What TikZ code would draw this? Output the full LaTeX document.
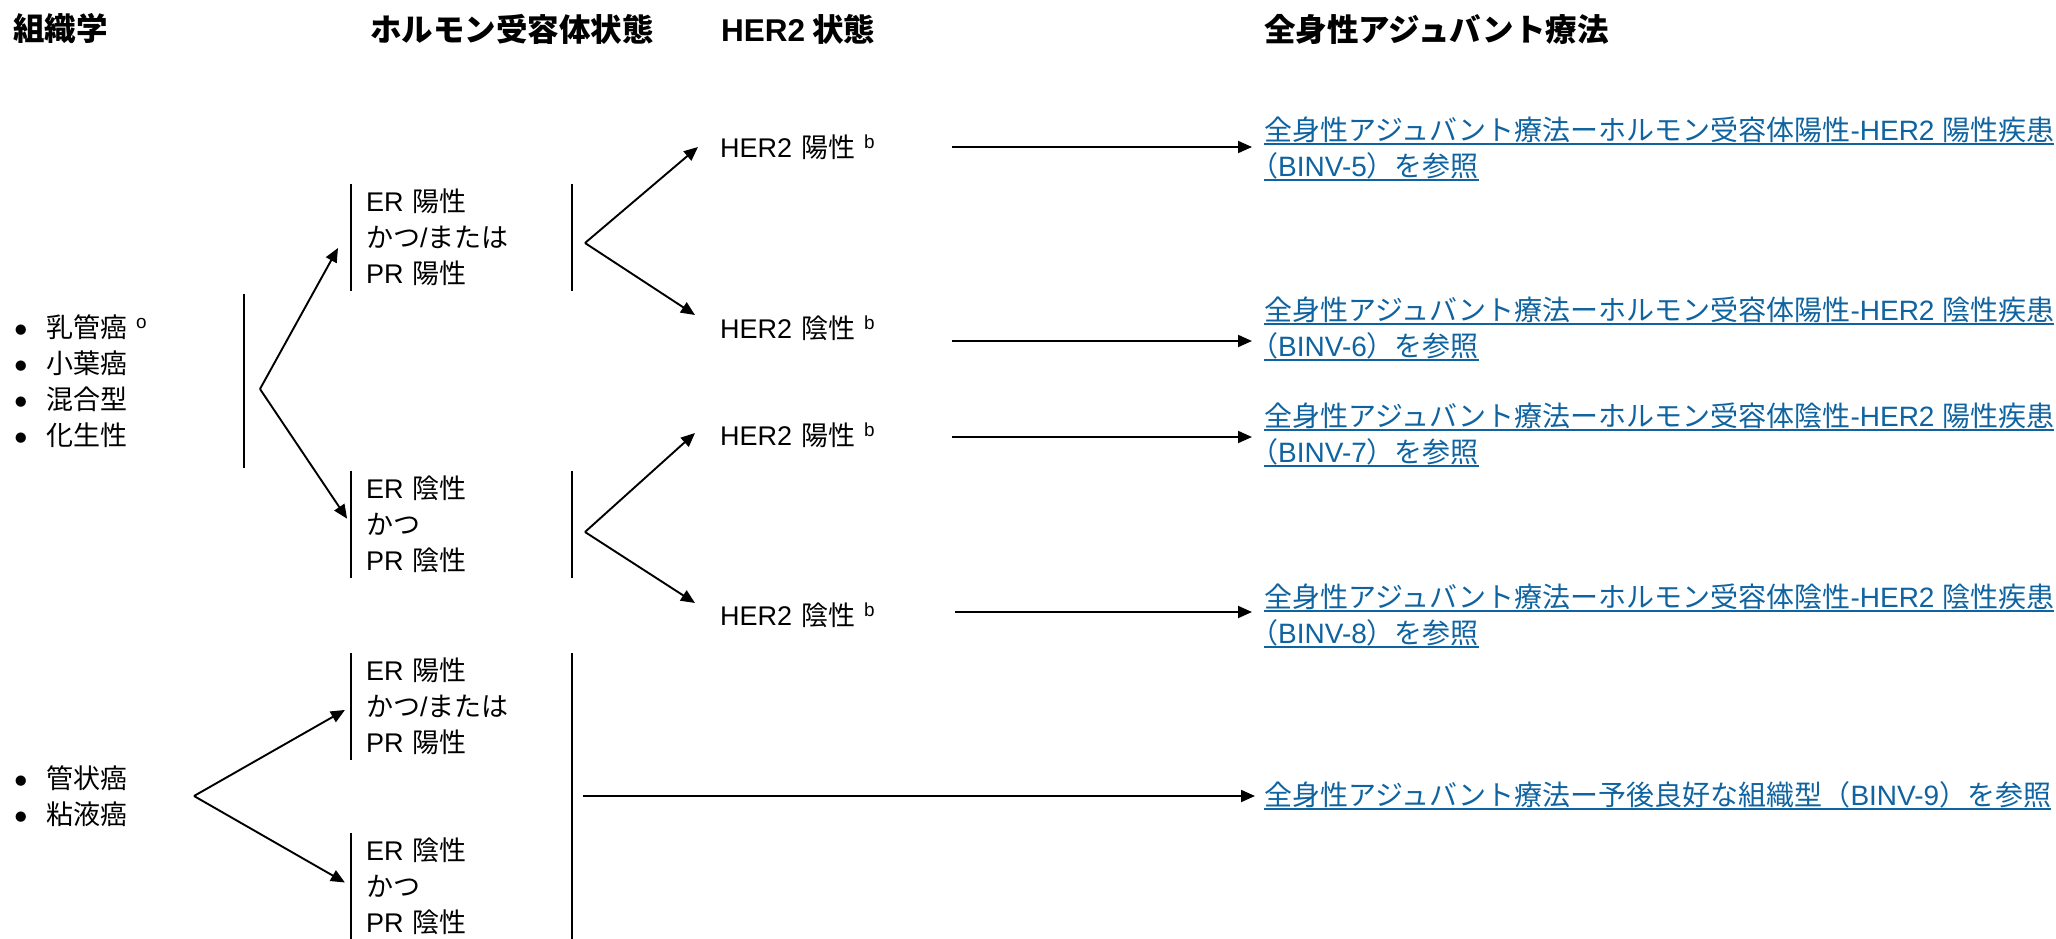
\documentclass[tikz,border=0pt]{standalone}
\usepackage{fontspec}
\setmainfont{Noto Sans CJK JP}
\newfontfamily\lat{Liberation Sans}
\usetikzlibrary{arrows.meta,calc}
\definecolor{linkblue}{RGB}{14,99,160}
\newcommand\bitem{\makebox[31pt][l]{\raisebox{3pt}{\fontsize{11.5}{11.5}\selectfont ●}}}
\newcommand\ulk[1]{\setbox0=\hbox{#1}\leavevmode\rlap{\rule[-5pt]{\wd0}{2pt}}\box0}
\newcommand\opar{{\addfontfeature{RawFeature=+halt}（}}
\begin{document}
\begin{tikzpicture}[x=1pt,y=-1pt,
  every node/.style={font=\fontsize{27}{36}\selectfont, inner sep=0pt},
  head/.style={anchor=west, font=\fontsize{31.5}{36}\selectfont\bfseries},
  hrbox/.style={anchor=west, text width=191pt, inner xsep=15pt, align=left, minimum height=107pt},
  her/.style={anchor=west, text width=232pt, align=left},
  lnk/.style={anchor=west, align=left, text=linkblue, font=\fontsize{28}{36}\selectfont},
  arr/.style={line width=1.9pt, -{Triangle[length=14pt,width=12pt]}},
  bar/.style={line width=1.9pt}]
\useasboundingbox (0,0) rectangle (2056,939);

% headers
\node[head] (h0) at (13,29) {組織学};
\node[head] (h1) at (370,29) {ホルモン受容体状態};
\node[head] (h2) at (721,29) {{\lat HER2} 状態};
\node[head] (h3) at (1264,29) {全身性アジュバント療法};

% histology lists
\node[anchor=west, text width=229pt, align=left, minimum height=174pt] (l1) at (15,381)
  {\bitem 乳管癌 \textsuperscript{\lat o}\\ \bitem 小葉癌\\ \bitem 混合型\\ \bitem 化生性};
\node[anchor=west, align=left] (l2) at (15,796) {\bitem 管状癌\\ \bitem 粘液癌};

% hormone receptor boxes
\node[hrbox] (b1) at (351,237.5) {{\lat ER} 陽性\\かつ{\lat /}または\\{\lat PR} 陽性};
\node[hrbox] (b2) at (351,524.5) {{\lat ER} 陰性\\かつ\\{\lat PR} 陰性};
\node[hrbox] (b3) at (351,706.5) {{\lat ER} 陽性\\かつ{\lat /}または\\{\lat PR} 陽性};
\node[hrbox, minimum height=106pt] (b4) at (351,886) {{\lat ER} 陰性\\かつ\\{\lat PR} 陰性};

% HER2 status
\node[her] (p1) at (720,147) {{\lat HER2} 陽性 \textsuperscript{\lat b}};
\node[her] (n1) at (720,328) {{\lat HER2} 陰性 \textsuperscript{\lat b}};
\node[her] (p2) at (720,435) {{\lat HER2} 陽性 \textsuperscript{\lat b}};
\node[her] (n2) at (720,615) {{\lat HER2} 陰性 \textsuperscript{\lat b}};

% links
\node[lnk] (k1) at (1264,149) {\ulk{全身性アジュバント療法ーホルモン受容体陽性{\lat -HER2 }陽性疾患}\\\ulk{\opar{\lat BINV-5}）を参照}};
\node[lnk] (k2) at (1264,329) {\ulk{全身性アジュバント療法ーホルモン受容体陽性{\lat -HER2 }陰性疾患}\\\ulk{\opar{\lat BINV-6}）を参照}};
\node[lnk] (k3) at (1264,435) {\ulk{全身性アジュバント療法ーホルモン受容体陰性{\lat -HER2 }陽性疾患}\\\ulk{\opar{\lat BINV-7}）を参照}};
\node[lnk] (k4) at (1264,616) {\ulk{全身性アジュバント療法ーホルモン受容体陰性{\lat -HER2 }陰性疾患}\\\ulk{\opar{\lat BINV-8}）を参照}};
\node[lnk] (k5) at (1264,796) {\ulk{全身性アジュバント療法ー予後良好な組織型（{\lat BINV-9}）を参照}};

% bars
\draw[bar] (l1.north east) -- (l1.south east);
\draw[bar] (b1.north west) -- (b1.south west) (b1.north east) -- (b1.south east);
\draw[bar] (b2.north west) -- (b2.south west) (b2.north east) -- (b2.south east);
\draw[bar] (b3.north west) -- (b3.south west);
\draw[bar] (b4.north west) -- (b4.south west);
\draw[bar] (b3.north east) -- (b4.south east);

% fork points
\coordinate (f1) at (260,389);
\coordinate (f2) at (585,243);
\coordinate (f3) at (585,532);
\coordinate (f4) at (194,796);
\coordinate (e1) at (338,248);
\coordinate (a1) at (698,147);
\coordinate (a2) at (695,315);
\coordinate (a3) at (695,433);
\coordinate (a4) at (695,603);

\draw[arr] (f1) -- (e1);
\draw[arr, shorten >=7pt] (f1) -- (b2.west);
\draw[arr] (f2) -- (a1);
\draw[arr] (f2) -- (a2);
\draw[arr] (f3) -- (a3);
\draw[arr] (f3) -- (a4);
\draw[arr, shorten >=7pt] (f4) -- (b3.west);
\draw[arr, shorten >=7pt] (f4) -- (b4.west);

% to therapy links
\draw[arr, shorten >=12pt] (p1.east) -- (p1.east -| k1.west);
\draw[arr, shorten >=12pt] ([yshift=-13pt]n1.east) -- ([yshift=-13pt]n1.east -| k2.west);
\draw[arr, shorten >=12pt] ([yshift=-2pt]p2.east) -- ([yshift=-2pt]p2.east -| k3.west);
\draw[arr, shorten >=12pt, shorten <=3pt] ([yshift=3pt]n2.east) -- ([yshift=3pt]n2.east -| k4.west);
\draw[arr, shorten >=9pt, shorten <=11pt] (k5.west -| b3.east) -- (k5.west);
\end{tikzpicture}
\end{document}
